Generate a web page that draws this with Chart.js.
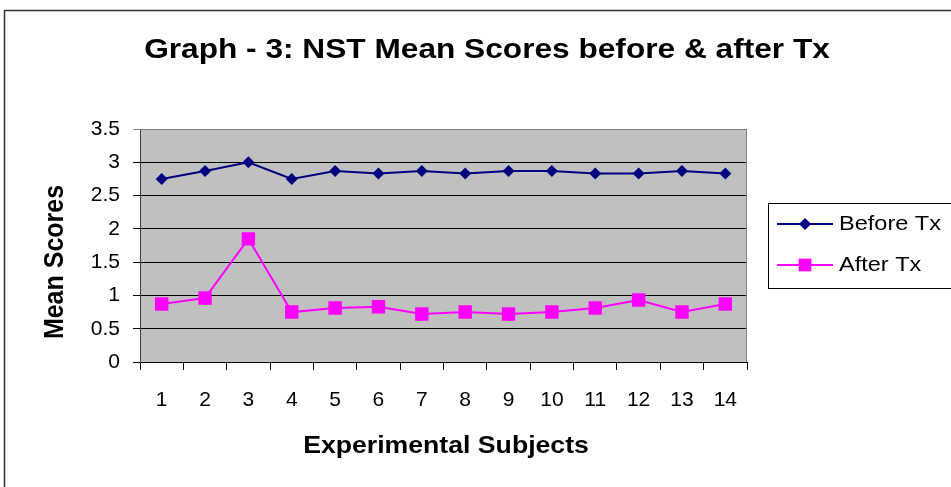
<!DOCTYPE html>
<html>
<head>
<meta charset="utf-8">
<script src="https://cdn.jsdelivr.net/npm/chart.js@4.4.1/dist/chart.umd.min.js"></script>
<style>
  html, body { margin: 0; padding: 0; background: #fff; }
  #wrap { width: 951px; height: 487px; position: relative; }
</style>
</head>
<body>
<div id="wrap"><canvas id="chart"></canvas></div>
<script>
// values
const subjects = ['1', '2', '3', '4', '5', '6', '7', '8', '9', '10', '11', '12', '13', '14'];
const beforeTx = [2.75, 2.87, 3.0, 2.75, 2.87, 2.83, 2.87, 2.83, 2.87, 2.87, 2.83, 2.83, 2.87, 2.83];
const afterTx = [0.87, 0.96, 1.85, 0.75, 0.81, 0.83, 0.72, 0.75, 0.72, 0.75, 0.81, 0.93, 0.75, 0.87];
const yTicks = [0, 0.5, 1, 1.5, 2, 2.5, 3, 3.5];

const chartTitle = 'Graph - 3: NST Mean Scores before & after Tx';
const xTitle = 'Experimental Subjects';
const yTitle = 'Mean Scores';

const FONT = '"Liberation Sans", Arial, sans-serif';
const NAVY = '#000080';
const PINK = '#ff00ff';

// draw text squeezed/stretched horizontally like the old Excel picture
function stretchedText(ctx, text, x, y, font, sx, align) {
    ctx.save();
    ctx.font = font;
    ctx.fillStyle = '#000';
    ctx.textBaseline = 'alphabetic';
    ctx.textAlign = align || 'center';
    ctx.translate(x, y);
    ctx.scale(sx, 1);
    ctx.fillText(text, 0, 0);
    ctx.restore();
}

const excelLook = {
    id: 'excelLook',
    beforeDraw(chart) {
        const { ctx, chartArea: a } = chart;
        ctx.save();
        ctx.fillStyle = '#fff';
        ctx.fillRect(0, 0, chart.width, chart.height);
        ctx.fillStyle = '#c0c0c0';
        ctx.fillRect(a.left, a.top, a.right - a.left, a.bottom - a.top);
        ctx.restore();
    },
    afterDraw(chart) {
        const { ctx, chartArea: a } = chart;
        ctx.save();
        // plot border (right side)
        ctx.strokeStyle = '#808080';
        ctx.lineWidth = 1;
        ctx.beginPath();
        ctx.moveTo(a.left, a.top + 0.5);
        ctx.lineTo(a.right - 0.5, a.top + 0.5);
        ctx.lineTo(a.right - 0.5, a.bottom);
        ctx.stroke();

        // outer chart frame
        ctx.strokeStyle = '#333';
        ctx.lineWidth = 1.5;
        ctx.strokeRect(4.5, 10.5, chart.width + 10, chart.height + 10);

        // titles
        stretchedText(ctx, chartTitle, 487, 58, 'bold 28px ' + FONT, 1.13);
        stretchedText(ctx, xTitle, 446, 453, 'bold 24px ' + FONT, 1.11);
        ctx.save();
        ctx.translate(63, 262);
        ctx.rotate(-Math.PI / 2);
        ctx.font = 'bold 25px ' + FONT;
        ctx.fillStyle = '#000';
        ctx.textAlign = 'center';
        ctx.textBaseline = 'alphabetic';
        ctx.scale(1, 1.1);
        ctx.fillText(yTitle, 0, 0);
        ctx.restore();

        // legend
        ctx.strokeStyle = '#000';
        ctx.lineWidth = 1;
        ctx.strokeRect(768.5, 203.5, 200, 85);
        const rows = [
            { label: chart.data.datasets[0].label, color: NAVY, style: 'rectRot', r: 6, y: 224 },
            { label: chart.data.datasets[1].label, color: PINK, style: 'rect', r: 9, y: 265 }
        ];
        rows.forEach(row => {
            ctx.strokeStyle = row.color;
            ctx.lineWidth = 2;
            ctx.beginPath();
            ctx.moveTo(777, row.y);
            ctx.lineTo(833, row.y);
            ctx.stroke();
            ctx.fillStyle = row.color;
            Chart.helpers.drawPoint(ctx, { pointStyle: row.style, radius: row.r, borderWidth: 0 }, 805, row.y);
            ctx.fillStyle = '#000';
            ctx.font = '21px ' + FONT;
            ctx.textAlign = 'left';
            ctx.textBaseline = 'middle';
            ctx.save();
            ctx.translate(839, row.y);
            ctx.scale(1.12, 1);
            ctx.fillText(row.label, 0, 0);
            ctx.restore();
        });
        ctx.restore();
    }
};

new Chart(document.getElementById('chart'), {
    type: 'line',
    data: {
        labels: subjects,
        datasets: [
            {
                label: 'Before Tx',
                data: beforeTx,
                borderColor: NAVY,
                backgroundColor: NAVY,
                borderWidth: 2,
                pointStyle: 'rectRot',
                pointRadius: 6,
                pointBorderWidth: 0,
                tension: 0
            },
            {
                label: 'After Tx',
                data: afterTx,
                borderColor: PINK,
                backgroundColor: PINK,
                borderWidth: 2,
                pointStyle: 'rect',
                pointRadius: 9.5,
                pointBorderWidth: 0,
                tension: 0
            }
        ]
    },
    options: {
        responsive: true,
        maintainAspectRatio: false,
        animation: false,
        layout: { padding: { left: 0, top: 129, right: 204, bottom: 0 } },
        plugins: {
            legend: { display: false },
            title: { display: false },
            tooltip: { enabled: false }
        },
        scales: {
            x: {
                offset: true,
                grid: { offset: true, drawOnChartArea: false, drawTicks: true, tickLength: 8, color: '#000' },
                border: { color: '#000', width: 1 },
                ticks: { color: '#000', font: { family: FONT, size: 21 }, padding: 18, maxRotation: 0, autoSkip: false },
                afterFit(scale) { scale.height = 125; }
            },
            y: {
                min: 0,
                max: 3.5,
                afterBuildTicks(scale) { scale.ticks = yTicks.map(v => ({ value: v })); },
                grid: {
                    color: c => (c.tick && c.tick.value === 3.5 ? '#808080' : '#000'),
                    tickLength: 7
                },
                border: { color: '#404040', width: 1 },
                ticks: {
                    color: '#000',
                    font: { family: FONT, size: 21 },
                    padding: 13,
                    callback: value => String(value)
                },
                afterFit(scale) { scale.width = 140; }
            }
        }
    },
    plugins: [excelLook]
});
</script>
</body>
</html>
